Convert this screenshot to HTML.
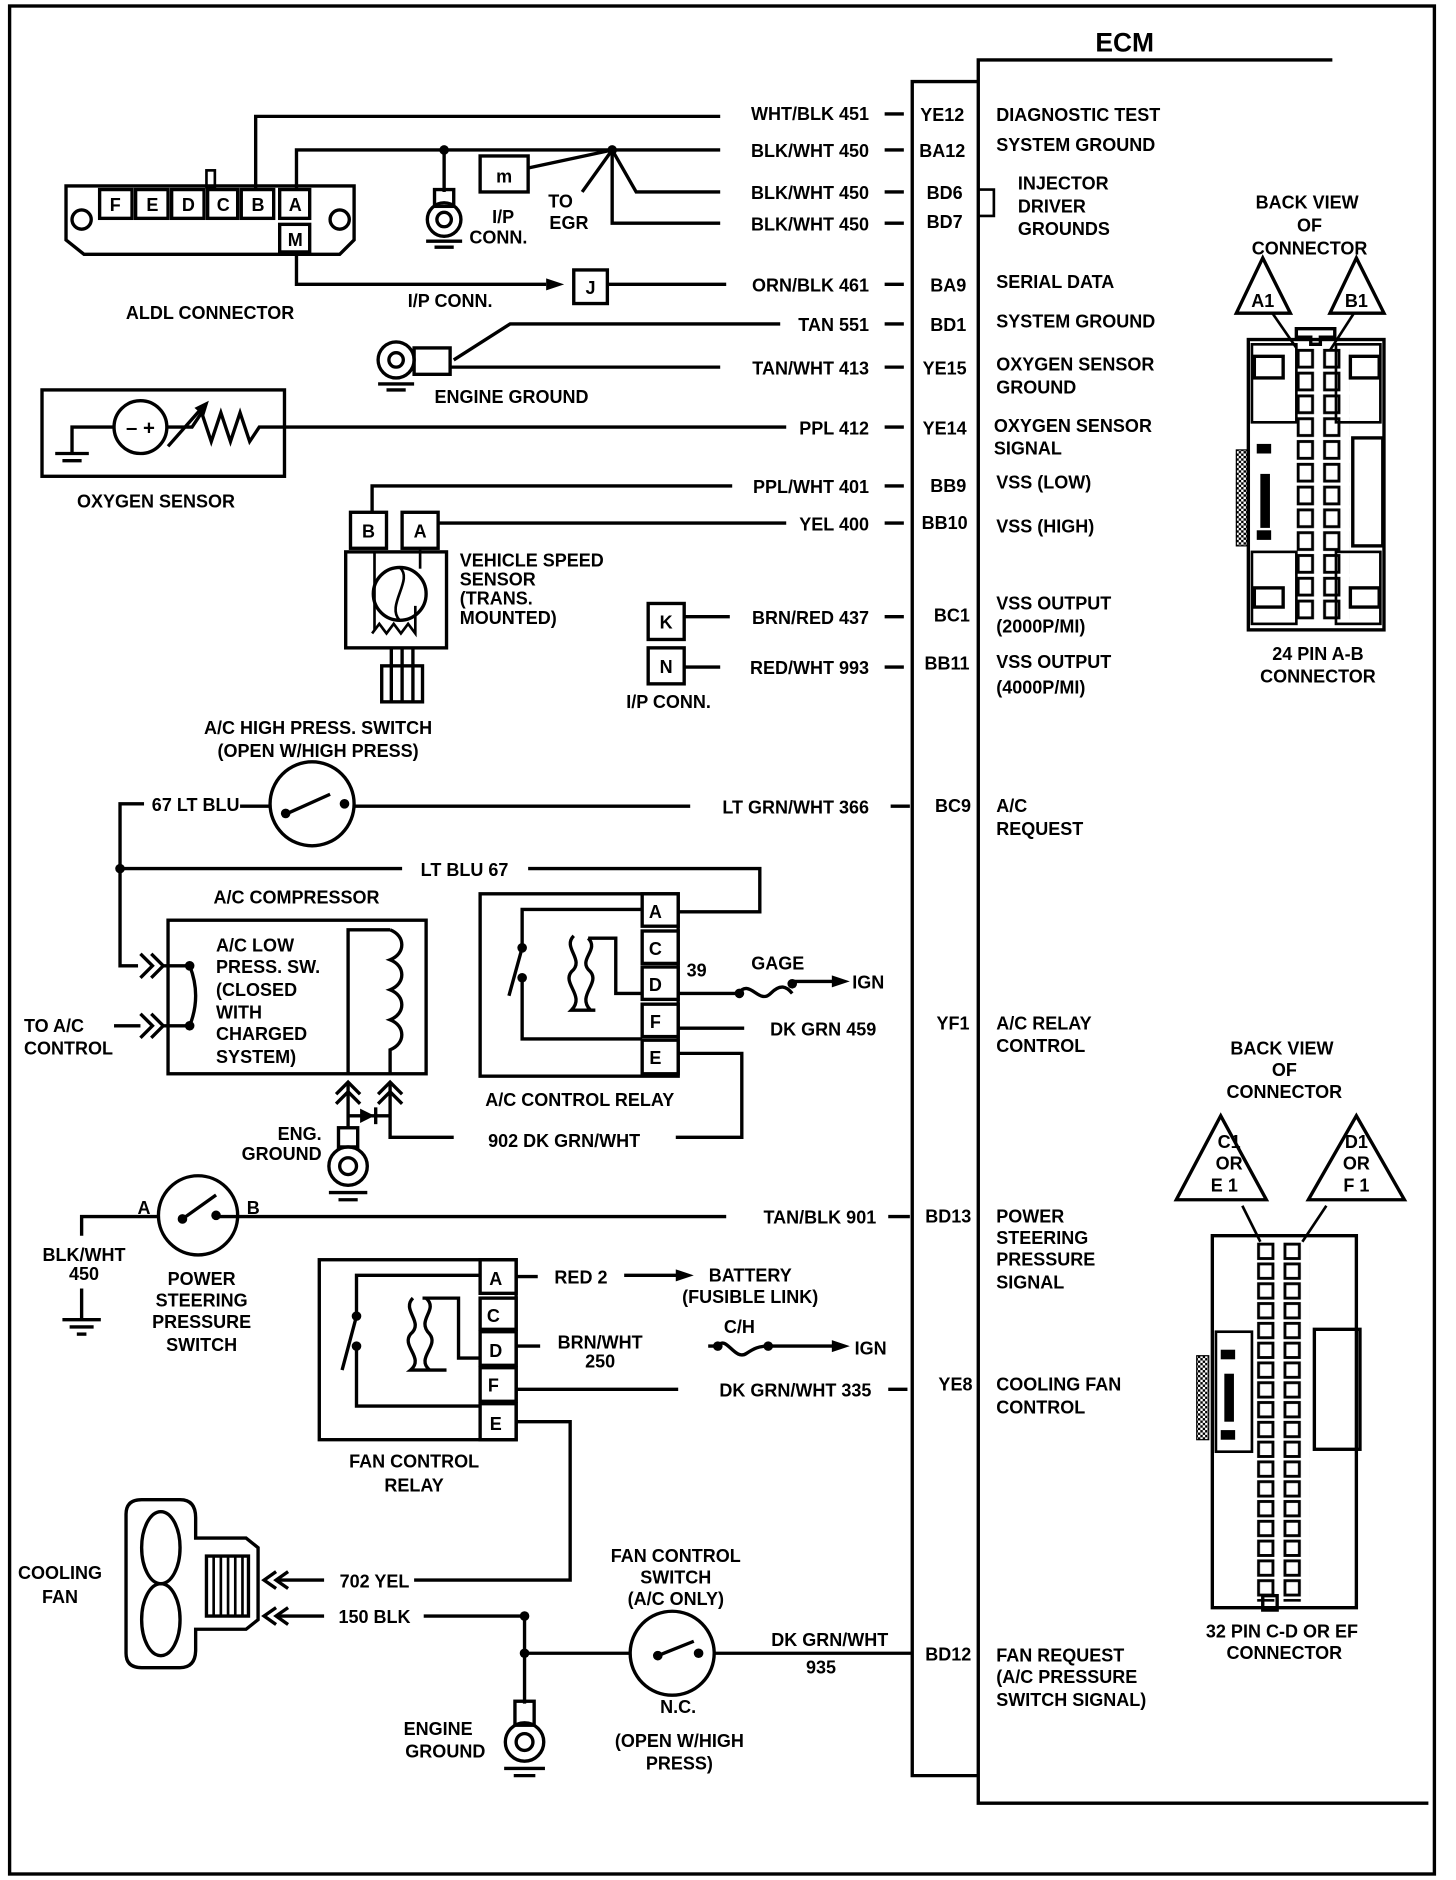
<!DOCTYPE html>
<html><head><meta charset="utf-8"><style>
html,body{margin:0;padding:0;background:#fff;}
svg{display:block;}
text{font-family:"Liberation Sans",sans-serif;font-weight:bold;font-size:15px;fill:#000;}
.s{fill:none;stroke:#000;stroke-width:2.8;}
.t{fill:none;stroke:#000;stroke-width:2.2;}
.m{text-anchor:middle;}
.e{text-anchor:end;}
</style></head><body>
<svg width="1456" height="1880" viewBox="0 0 1213 1567" preserveAspectRatio="none" xmlns="http://www.w3.org/2000/svg">
<defs>
<pattern id="pinA" x="1080" y="290" width="22" height="19" patternUnits="userSpaceOnUse"><rect x="1.5" y="2" width="12" height="14" fill="#fff" stroke="#000" stroke-width="2.4"/></pattern>
<pattern id="pinC" x="1047" y="1035" width="22" height="16.5" patternUnits="userSpaceOnUse"><rect x="1.5" y="2" width="12" height="12" fill="#fff" stroke="#000" stroke-width="2.4"/></pattern>
<pattern id="hatch" width="4" height="4" patternUnits="userSpaceOnUse"><rect width="4" height="4" fill="#fff"/><rect width="2" height="2" fill="#000"/><rect x="2" y="2" width="2" height="2" fill="#000"/></pattern>
</defs>
<rect x="8" y="5" width="1187" height="1557" class="s" stroke-width="3"/>
<text x="937" y="43" class="m" style="font-size:22px">ECM</text>
<polyline class="s" points="1110,50 815,50 815,1503 1190,1503" stroke-width="3"/>
<polyline class="s" points="815,68 760,68 760,1480 815,1480" stroke-width="3"/>

<g>
<text x="724" y="100" class="e">WHT/BLK 451</text><line class="s" x1="737" y1="95" x2="753" y2="95"/><text x="785" y="101" class="m">YE12</text><text x="830" y="101">DIAGNOSTIC TEST</text>
<text x="724" y="131" class="e">BLK/WHT 450</text><line class="s" x1="737" y1="125" x2="753" y2="125"/><text x="785" y="131" class="m">BA12</text><text x="830" y="126">SYSTEM GROUND</text>
<text x="724" y="166" class="e">BLK/WHT 450</text><line class="s" x1="737" y1="160" x2="753" y2="160"/><text x="787" y="166" class="m">BD6</text>
<text x="724" y="192" class="e">BLK/WHT 450</text><line class="s" x1="737" y1="186" x2="753" y2="186"/><text x="787" y="190" class="m">BD7</text>
<polyline class="t" points="815,158 828,158 828,180 815,180"/>
<text x="848" y="158">INJECTOR</text><text x="848" y="177">DRIVER</text><text x="848" y="196">GROUNDS</text>
<text x="724" y="243" class="e">ORN/BLK 461</text><line class="s" x1="737" y1="237" x2="753" y2="237"/><text x="790" y="243" class="m">BA9</text><text x="830" y="240">SERIAL DATA</text>
<text x="724" y="276" class="e">TAN 551</text><line class="s" x1="737" y1="270" x2="753" y2="270"/><text x="790" y="276" class="m">BD1</text><text x="830" y="273">SYSTEM GROUND</text>
<text x="724" y="312" class="e">TAN/WHT 413</text><line class="s" x1="737" y1="306" x2="753" y2="306"/><text x="787" y="312" class="m">YE15</text><text x="830" y="309">OXYGEN SENSOR</text><text x="830" y="328">GROUND</text>
<text x="724" y="362" class="e">PPL 412</text><line class="s" x1="737" y1="356" x2="753" y2="356"/><text x="787" y="362" class="m">YE14</text><text x="828" y="360">OXYGEN SENSOR</text><text x="828" y="379">SIGNAL</text>
<text x="724" y="411" class="e">PPL/WHT 401</text><line class="s" x1="737" y1="405" x2="753" y2="405"/><text x="790" y="410" class="m">BB9</text><text x="830" y="407">VSS  (LOW)</text>
<text x="724" y="442" class="e">YEL 400</text><line class="s" x1="737" y1="436" x2="753" y2="436"/><text x="787" y="441" class="m">BB10</text><text x="830" y="444">VSS  (HIGH)</text>
<text x="724" y="520" class="e">BRN/RED 437</text><line class="s" x1="737" y1="514" x2="753" y2="514"/><text x="793" y="518" class="m">BC1</text><text x="830" y="508">VSS OUTPUT</text><text x="830" y="527">(2000P/MI)</text>
<text x="724" y="562" class="e">RED/WHT 993</text><line class="s" x1="737" y1="556" x2="753" y2="556"/><text x="789" y="558" class="m">BB11</text><text x="830" y="557">VSS OUTPUT</text><text x="830" y="578">(4000P/MI)</text>
<text x="724" y="678" class="e">LT GRN/WHT 366</text><line class="s" x1="742" y1="672" x2="758" y2="672"/><text x="794" y="677" class="m">BC9</text><text x="830" y="677">A/C</text><text x="830" y="696">REQUEST</text>
<text x="730" y="863" class="e">DK GRN 459</text><text x="794" y="858" class="m">YF1</text><text x="830" y="858">A/C RELAY</text><text x="830" y="877">CONTROL</text>
<text x="730" y="1020" class="e">TAN/BLK 901</text><line class="s" x1="740" y1="1014" x2="758" y2="1014"/><text x="790" y="1019" class="m">BD13</text><text x="830" y="1019">POWER</text><text x="830" y="1037">STEERING</text><text x="830" y="1055">PRESSURE</text><text x="830" y="1074">SIGNAL</text>
<text x="726" y="1164" class="e">DK GRN/WHT 335</text><line class="s" x1="740" y1="1158" x2="756" y2="1158"/><text x="796" y="1159" class="m">YE8</text><text x="830" y="1159">COOLING FAN</text><text x="830" y="1178">CONTROL</text>
<text x="740" y="1372" class="e">DK GRN/WHT</text><text x="684" y="1395" class="m">935</text><text x="790" y="1384" class="m">BD12</text><text x="830" y="1385">FAN REQUEST</text><text x="830" y="1403">(A/C PRESSURE</text><text x="830" y="1422">SWITCH SIGNAL)</text>
</g>

<path class="s" d="M55,155 L295,155 L295,200 L283,212 L70,212 L55,200 Z"/>
<circle class="s" cx="68" cy="183" r="8"/><circle class="s" cx="283" cy="183" r="8"/>
<g class="s"><rect x="83" y="158" width="27" height="24"/><rect x="113" y="158" width="27" height="24"/><rect x="143" y="158" width="27" height="24"/><rect x="173" y="158" width="25" height="24"/><rect x="201" y="158" width="27" height="24"/><rect x="233" y="158" width="25" height="24"/><rect x="233" y="187" width="25" height="23"/></g>
<rect x="172" y="142" width="7" height="14" class="t"/>
<text x="96" y="176" class="m">F</text><text x="127" y="176" class="m">E</text><text x="157" y="176" class="m">D</text><text x="186" y="176" class="m">C</text><text x="215" y="176" class="m">B</text><text x="246" y="176" class="m">A</text><text x="246" y="205" class="m">M</text>
<text x="175" y="266" class="m">ALDL  CONNECTOR</text>
<polyline class="s" points="213,158 213,97 600,97"/>
<polyline class="s" points="247,158 247,125 600,125"/>
<circle cx="370" cy="125" r="4"/><circle cx="510" cy="125" r="4"/>
<polyline class="s" points="370,125 370,160"/>
<rect class="s" x="400" y="130" width="40" height="30"/><text x="420" y="152" class="m">m</text>
<line class="s" x1="440" y1="140" x2="510" y2="125"/>
<line class="s" x1="510" y1="125" x2="485" y2="160"/>
<polyline class="s" points="510,125 530,160 600,160"/>
<polyline class="s" points="510,125 510,186 600,186"/>
<text x="467" y="173" class="m">TO</text><text x="474" y="191" class="m">EGR</text>
<rect class="s" x="362" y="158" width="16" height="14"/>
<circle class="s" cx="370" cy="183" r="14"/><circle class="s" cx="370" cy="183" r="6"/>
<line class="s" x1="355" y1="201" x2="385" y2="201"/><line class="s" x1="362" y1="206" x2="378" y2="206"/>
<text x="410" y="186">I/P</text><text x="391" y="203">CONN.</text>
<polyline class="s" points="247,210 247,237 455,237"/>
<path d="M455,232 L470,237 L455,242 Z"/>
<rect class="s" x="478" y="225" width="28" height="28"/><text x="492" y="245" class="m">J</text>
<line class="s" x1="506" y1="237" x2="605" y2="237"/>
<text x="375" y="256" class="m">I/P CONN.</text>
<polyline class="s" points="650,270 425,270 378,300"/>
<line class="s" x1="375" y1="306" x2="600" y2="306"/>
<rect class="s" x="345" y="290" width="30" height="22"/>
<circle class="s" cx="330" cy="300" r="15"/><circle class="s" cx="330" cy="300" r="6"/>
<line class="s" x1="315" y1="320" x2="345" y2="320"/><line class="s" x1="322" y1="325" x2="338" y2="325"/>
<text x="362" y="336">ENGINE GROUND</text>
<rect class="s" x="35" y="325" width="202" height="72"/>
<circle class="s" cx="117" cy="356" r="22"/>
<text x="117" y="362" class="m" style="font-size:17px">– +</text>
<polyline class="s" points="139,356 160,356 168,344 176,368 184,344 192,368 200,344 208,368 216,356 237,356"/>
<line class="s" x1="140" y1="372" x2="170" y2="338"/><path d="M162,340 L174,334 L170,347 Z"/>
<polyline class="s" points="95,356 60,356 60,378"/>
<line class="s" x1="46" y1="378" x2="74" y2="378"/><line class="s" x1="52" y1="384" x2="68" y2="384"/>
<line class="s" x1="237" y1="356" x2="655" y2="356"/>
<text x="130" y="423" class="m">OXYGEN SENSOR</text>
<rect class="s" x="292" y="427" width="30" height="30"/><text x="307" y="448" class="m">B</text>
<rect class="s" x="335" y="427" width="30" height="30"/><text x="350" y="448" class="m">A</text>
<polyline class="s" points="310,427 310,405 610,405"/>
<line class="s" x1="365" y1="436" x2="655" y2="436"/>
<rect class="s" x="288" y="460" width="84" height="80"/>
<polyline class="t" points="312,460 312,525"/><polyline class="t" points="350,457 350,474"/>
<circle class="s" cx="333" cy="495" r="22"/>
<path class="t" d="M333,473 C345,483 321,505 333,517"/>
<polyline class="t" points="310,528 316,520 322,528 328,520 334,528 340,520 346,528 346,505"/>
<rect class="s" x="318" y="555" width="34" height="30"/>
<line class="s" x1="326" y1="540" x2="326" y2="585"/><line class="s" x1="335" y1="540" x2="335" y2="585"/><line class="s" x1="344" y1="540" x2="344" y2="585"/>
<text x="383" y="472">VEHICLE SPEED</text><text x="383" y="488">SENSOR</text><text x="383" y="504">(TRANS.</text><text x="383" y="520">MOUNTED)</text>
<rect class="s" x="540" y="503" width="30" height="30"/><text x="555" y="524" class="m">K</text>
<rect class="s" x="540" y="540" width="30" height="30"/><text x="555" y="561" class="m">N</text>
<line class="s" x1="570" y1="514" x2="608" y2="514"/><line class="s" x1="570" y1="556" x2="600" y2="556"/>
<text x="557" y="590" class="m">I/P CONN.</text>
<text x="265" y="612" class="m">A/C HIGH PRESS. SWITCH</text><text x="265" y="631" class="m">(OPEN W/HIGH PRESS)</text>
<circle class="s" cx="260" cy="670" r="35"/>
<line class="s" x1="235" y1="680" x2="275" y2="662"/><circle cx="238" cy="678" r="4"/><circle cx="287" cy="670" r="4"/>
<polyline class="s" points="225,672 200,672"/>
<text x="163" y="676" class="m">67 LT BLU</text>
<polyline class="s" points="120,670 100,670 100,805 115,805"/>
<line class="s" x1="295" y1="672" x2="575" y2="672"/>
<circle cx="100" cy="724" r="4"/>
<line class="s" x1="100" y1="724" x2="335" y2="724"/>
<text x="387" y="730" class="m">LT BLU 67</text>
<polyline class="s" points="440,724 633,724 633,760 565,760"/>
<text x="247" y="753" class="m">A/C COMPRESSOR</text>
<rect class="s" x="140" y="767" width="215" height="128"/>
<path class="s" d="M117,795 L127,805 L117,815 M126,795 L136,805 L126,815"/>
<path class="s" d="M117,845 L127,855 L117,865 M126,845 L136,855 L126,865"/>
<line class="s" x1="95" y1="855" x2="117" y2="855"/>
<line class="s" x1="136" y1="805" x2="157" y2="805"/><line class="s" x1="136" y1="855" x2="157" y2="855"/>
<path class="s" d="M158,805 Q168,830 158,855"/><circle cx="158" cy="805" r="4"/><circle cx="158" cy="855" r="4"/>
<text x="180" y="793">A/C LOW</text><text x="180" y="811">PRESS. SW.</text><text x="180" y="830">(CLOSED</text><text x="180" y="849">WITH</text><text x="180" y="867">CHARGED</text><text x="180" y="886">SYSTEM)</text>
<text x="20" y="860">TO A/C</text><text x="20" y="879">CONTROL</text>
<polyline class="s" points="325,775 290,775 290,895"/>
<path class="s" d="M325,775 C338,780 338,795 325,800 C338,805 338,820 325,825 C338,830 338,845 325,850 C338,855 338,870 325,875 L325,895"/>
<path class="s" d="M280,912 L290,902 L300,912 M280,920 L290,910 L300,920"/>
<path class="s" d="M315,912 L325,902 L335,912 M315,920 L325,910 L335,920"/>
<line class="s" x1="290" y1="902" x2="290" y2="940"/><polyline class="s" points="325,902 325,948 378,948"/>
<line class="s" x1="290" y1="930" x2="325" y2="930"/><path d="M300,924 L312,930 L300,936 Z"/><line class="s" x1="313" y1="923" x2="313" y2="937"/>
<text x="268" y="950" class="e">ENG.</text><text x="268" y="967" class="e">GROUND</text>
<rect class="s" x="282" y="940" width="16" height="16"/>
<circle class="s" cx="290" cy="972" r="16"/><circle class="s" cx="290" cy="972" r="7"/>
<line class="s" x1="274" y1="994" x2="306" y2="994"/><line class="s" x1="282" y1="1000" x2="298" y2="1000"/>
<text x="470" y="956" class="m">902 DK GRN/WHT</text>
<polyline class="s" points="563,948 618,948 618,878 565,878"/>
<rect class="s" x="400" y="745" width="165" height="152"/>
<g class="s"><rect x="535" y="745" width="30" height="27"/><rect x="535" y="776" width="30" height="27"/><rect x="535" y="806" width="30" height="27"/><rect x="535" y="837" width="30" height="27"/><rect x="535" y="867" width="30" height="28"/></g>
<text x="546" y="765" class="m">A</text><text x="546" y="796" class="m">C</text><text x="546" y="826" class="m">D</text><text x="546" y="857" class="m">F</text><text x="546" y="887" class="m">E</text>
<polyline class="s" points="535,758 435,758 435,790"/><circle cx="435" cy="790" r="4"/>
<line class="s" x1="424" y1="830" x2="435" y2="790"/>
<circle cx="435" cy="815" r="4"/><polyline class="s" points="435,815 435,866 535,866"/>
<polyline class="s" points="535,828 513,828 513,782 490,782"/>
<path class="s" d="M478,780 C468,790 488,800 476,810 C468,820 488,830 476,842 L496,842"/>
<path class="s" d="M490,782 C500,792 480,800 492,810 C500,820 480,830 492,842"/>
<line class="s" x1="565" y1="828" x2="615" y2="828"/><text x="572" y="814">39</text>
<text x="648" y="808" class="m">GAGE</text>
<path class="s" d="M615,828 C625,815 632,838 642,828 C650,820 655,822 660,828"/><circle cx="616" cy="828" r="4"/><circle cx="660" cy="820" r="4"/>
<line class="s" x1="660" y1="818" x2="695" y2="818"/><path d="M693,813 L708,818 L693,823 Z"/>
<text x="710" y="824">IGN</text>
<line class="s" x1="565" y1="857" x2="620" y2="857"/>
<text x="483" y="922" class="m">A/C CONTROL RELAY</text>
<circle class="s" cx="165" cy="1013" r="33"/>
<line class="s" x1="152" y1="1016" x2="180" y2="996"/><circle cx="152" cy="1016" r="4"/><circle cx="180" cy="1013" r="4"/>
<text x="120" y="1012" class="m">A</text><text x="211" y="1012" class="m">B</text>
<polyline class="s" points="132,1014 68,1014 68,1030"/>
<line class="s" x1="180" y1="1014" x2="605" y2="1014"/>
<text x="70" y="1051" class="m">BLK/WHT</text><text x="70" y="1067" class="m">450</text>
<line class="s" x1="68" y1="1074" x2="68" y2="1100"/><line class="s" x1="52" y1="1100" x2="84" y2="1100"/><line class="s" x1="58" y1="1106" x2="78" y2="1106"/><line class="s" x1="64" y1="1112" x2="72" y2="1112"/>
<text x="168" y="1071" class="m">POWER</text><text x="168" y="1089" class="m">STEERING</text><text x="168" y="1107" class="m">PRESSURE</text><text x="168" y="1126" class="m">SWITCH</text>
<rect class="s" x="266" y="1050" width="164" height="150"/>
<g class="s"><rect x="400" y="1050" width="30" height="28"/><rect x="400" y="1082" width="30" height="26"/><rect x="400" y="1110" width="30" height="28"/><rect x="400" y="1140" width="30" height="28"/><rect x="400" y="1170" width="30" height="30"/></g>
<text x="413" y="1071" class="m">A</text><text x="411" y="1102" class="m">C</text><text x="413" y="1131" class="m">D</text><text x="411" y="1160" class="m">F</text><text x="413" y="1192" class="m">E</text>
<polyline class="s" points="400,1063 297,1063 297,1097"/><circle cx="297" cy="1097" r="4"/>
<line class="s" x1="285" y1="1142" x2="297" y2="1097"/>
<circle cx="297" cy="1122" r="4"/><polyline class="s" points="297,1122 297,1172 400,1172"/>
<polyline class="s" points="400,1132 382,1132 382,1082 352,1082"/>
<path class="s" d="M344,1082 C334,1092 354,1102 342,1112 C334,1122 354,1132 342,1142 L372,1142"/>
<path class="s" d="M355,1082 C366,1092 346,1100 358,1112 C366,1122 346,1132 358,1142"/>
<line class="s" x1="430" y1="1064" x2="448" y2="1064"/><text x="484" y="1070" class="m">RED 2</text>
<line class="s" x1="520" y1="1063" x2="565" y2="1063"/><path d="M563,1058 L578,1063 L563,1068 Z"/>
<text x="625" y="1068" class="m">BATTERY</text><text x="625" y="1086" class="m">(FUSIBLE LINK)</text>
<line class="s" x1="430" y1="1122" x2="450" y2="1122"/><text x="500" y="1124" class="m">BRN/WHT</text><text x="500" y="1140" class="m">250</text>
<text x="616" y="1111" class="m">C/H</text>
<path class="s" d="M590,1122 L598,1122 C605,1112 612,1135 622,1128 C628,1124 632,1122 640,1122 L695,1122"/><circle cx="598" cy="1122" r="4"/><circle cx="640" cy="1122" r="4"/>
<path d="M693,1117 L708,1122 L693,1127 Z"/><text x="712" y="1129">IGN</text>
<line class="s" x1="430" y1="1158" x2="565" y2="1158"/>
<polyline class="s" points="430,1185 475,1185 475,1317 345,1317"/>
<text x="345" y="1223" class="m">FAN CONTROL</text><text x="345" y="1243" class="m">RELAY</text>
<path class="s" d="M105,1262 Q105,1250 118,1250 L150,1250 Q163,1250 163,1265 L163,1282 L205,1282 L215,1290 L215,1350 L205,1358 L163,1358 L163,1375 Q163,1390 150,1390 L118,1390 Q105,1390 105,1378 Z"/>
<ellipse class="s" cx="134" cy="1290" rx="16" ry="30"/><ellipse class="s" cx="134" cy="1350" rx="16" ry="30"/>
<rect class="s" x="172" y="1297" width="35" height="50"/>
<g class="t"><line x1="178" y1="1297" x2="178" y2="1347"/><line x1="184" y1="1297" x2="184" y2="1347"/><line x1="190" y1="1297" x2="190" y2="1347"/><line x1="196" y1="1297" x2="196" y2="1347"/><line x1="202" y1="1297" x2="202" y2="1347"/></g>
<text x="50" y="1316" class="m">COOLING</text><text x="50" y="1336" class="m">FAN</text>
<path class="s" d="M230,1310 L220,1317 L230,1324 M240,1310 L230,1317 L240,1324"/>
<path class="s" d="M230,1340 L220,1347 L230,1354 M240,1340 L230,1347 L240,1354"/>
<line class="s" x1="230" y1="1317" x2="270" y2="1317"/><text x="312" y="1323" class="m">702 YEL</text>
<line class="s" x1="230" y1="1347" x2="270" y2="1347"/><text x="312" y="1353" class="m">150 BLK</text>
<polyline class="s" points="353,1347 437,1347 437,1420"/>
<circle cx="437" cy="1347" r="4"/><circle cx="437" cy="1378" r="4"/>
<line class="s" x1="437" y1="1378" x2="525" y2="1378"/>
<rect class="s" x="429" y="1418" width="16" height="20"/>
<circle class="s" cx="437" cy="1452" r="16"/><circle class="s" cx="437" cy="1452" r="7"/>
<line class="s" x1="420" y1="1474" x2="454" y2="1474"/><line class="s" x1="428" y1="1480" x2="446" y2="1480"/>
<text x="365" y="1446" class="m">ENGINE</text><text x="371" y="1465" class="m">GROUND</text>
<text x="563" y="1302" class="m">FAN CONTROL</text><text x="563" y="1320" class="m">SWITCH</text><text x="563" y="1338" class="m">(A/C ONLY)</text>
<circle class="s" cx="560" cy="1378" r="35"/>
<line class="s" x1="548" y1="1380" x2="578" y2="1368"/><circle cx="548" cy="1380" r="4"/><circle cx="582" cy="1378" r="4"/>
<line class="s" x1="595" y1="1378" x2="760" y2="1378"/>
<text x="565" y="1428" class="m">N.C.</text>
<text x="566" y="1456" class="m">(OPEN W/HIGH</text><text x="566" y="1475" class="m">PRESS)</text>

<text x="1089" y="174" class="m">BACK VIEW</text><text x="1091" y="193" class="m">OF</text><text x="1091" y="212" class="m">CONNECTOR</text>
<path class="s" d="M1052,215 L1030,261 L1075,261 Z"/><text x="1052" y="256" class="m">A1</text>
<path class="s" d="M1130,215 L1108,261 L1153,261 Z"/><text x="1130" y="256" class="m">B1</text>
<line class="t" x1="1060" y1="261" x2="1080" y2="290"/><line class="t" x1="1128" y1="261" x2="1108" y2="292"/>
<rect class="s" x="1040" y="283" width="113" height="242" stroke-width="3"/>
<path class="s" d="M1080,274 L1112,274 L1112,281 L1100,281 L1100,287 L1092,287 L1092,281 L1080,281 Z"/>
<rect x="1080" y="290" width="44" height="228" fill="url(#pinA)"/>
<rect class="t" x="1043" y="287" width="37" height="65"/><rect class="t" x="1113" y="287" width="37" height="65"/>
<rect class="s" x="1045" y="297" width="24" height="18"/><rect class="s" x="1125" y="297" width="24" height="18"/>
<rect class="t" x="1043" y="460" width="37" height="60"/><rect class="t" x="1113" y="460" width="37" height="60"/>
<rect class="s" x="1045" y="490" width="24" height="16"/><rect class="s" x="1125" y="490" width="24" height="16"/>
<rect class="s" x="1127" y="365" width="25" height="90"/>
<rect x="1030" y="375" width="9" height="80" fill="url(#hatch)" stroke="#000"/>
<rect x="1047" y="370" width="12" height="8"/><rect x="1050" y="395" width="8" height="45"/><rect x="1047" y="442" width="12" height="8"/>
<text x="1098" y="550" class="m">24 PIN  A-B</text><text x="1098" y="569" class="m">CONNECTOR</text>
<text x="1068" y="879" class="m">BACK VIEW</text><text x="1070" y="897" class="m">OF</text><text x="1070" y="915" class="m">CONNECTOR</text>
<path class="s" d="M1017,930 L980,1000 L1055,1000 Z"/><text x="1024" y="957" class="m">C1</text><text x="1024" y="975" class="m">OR</text><text x="1020" y="993" class="m">E 1</text>
<path class="s" d="M1130,930 L1090,1000 L1170,1000 Z"/><text x="1130" y="957" class="m">D1</text><text x="1130" y="975" class="m">OR</text><text x="1130" y="993" class="m">F 1</text>
<line class="t" x1="1035" y1="1005" x2="1050" y2="1035"/><line class="t" x1="1105" y1="1005" x2="1085" y2="1035"/>
<path class="s" d="M1010,1030 L1130,1030 L1130,1340 L1010,1340 Z" stroke-width="3"/>
<rect x="1047" y="1035" width="44" height="300" fill="url(#pinC)"/>
<rect class="s" x="1095" y="1108" width="38" height="100"/>
<rect class="t" x="1013" y="1110" width="30" height="100"/>
<rect x="997" y="1130" width="10" height="70" fill="url(#hatch)" stroke="#000"/>
<rect x="1017" y="1125" width="12" height="8"/><rect x="1020" y="1145" width="8" height="40"/><rect x="1017" y="1192" width="12" height="8"/>
<rect class="s" x="1052" y="1330" width="12" height="12"/>
<text x="1068" y="1365" class="m">32  PIN  C-D OR EF</text><text x="1070" y="1383" class="m">CONNECTOR</text>
</svg>
</body></html>
